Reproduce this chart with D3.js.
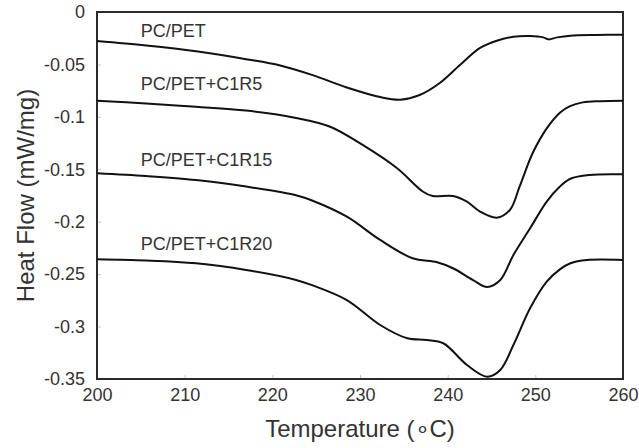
<!DOCTYPE html>
<html>
<head>
<meta charset="utf-8">
<script src="https://cdn.jsdelivr.net/npm/d3@7"></script>
<style>
  body { margin: 0; background: #fff; }
  svg { font-family: "Liberation Sans", Arial, sans-serif; }
</style>
</head>
<body>
<div id="vis"></div>
<script>
// DSC curves: temperature (°C) and heat flow (mW/mg)
var pcpetT  = [200, 205.6, 211.3, 217.0, 220.9, 224.6, 228.5, 232.3, 234.6, 236.8, 239.1, 241.4, 243.7, 245.6, 247.5, 249.4, 250.9, 251.5, 252.5, 254.0, 257.0, 260];
var pcpetHF = [-0.0277, -0.0320, -0.0375, -0.0450, -0.0510, -0.0602, -0.0720, -0.0811, -0.0836, -0.0792, -0.0677, -0.0505, -0.0343, -0.0274, -0.0236, -0.0229, -0.0242, -0.0261, -0.0242, -0.0226, -0.0219, -0.0216];

var c1r5T  = [200, 205.6, 211.3, 217.0, 222.7, 226.6, 230.3, 234.2, 237.2, 238.3, 240.6, 242.2, 243.7, 245.6, 247.1, 248.2, 249.7, 251.3, 252.8, 253.9, 255.4, 257.4, 260];
var c1r5HF = [-0.0846, -0.0873, -0.0904, -0.0940, -0.1010, -0.1094, -0.1268, -0.1488, -0.1714, -0.1755, -0.1755, -0.1809, -0.1904, -0.1962, -0.1888, -0.1666, -0.1345, -0.1110, -0.0960, -0.0900, -0.0862, -0.0850, -0.0846];

var c1r15T  = [200, 205.6, 211.3, 217.0, 222.7, 224.6, 228.5, 232.3, 236.0, 238.8, 240.6, 242.9, 244.5, 246.0, 247.5, 249.4, 251.3, 252.8, 254.0, 256.2, 260];
var c1r15HF = [-0.1538, -0.1564, -0.1602, -0.1665, -0.1748, -0.1800, -0.1952, -0.2174, -0.2349, -0.2387, -0.2444, -0.2556, -0.2623, -0.2556, -0.2317, -0.2063, -0.1809, -0.1665, -0.1590, -0.1554, -0.1548];

var c1r20T  = [200, 205.6, 211.3, 217.0, 222.7, 224.6, 228.5, 232.3, 235.4, 237.6, 239.5, 242.2, 244.5, 246.0, 247.5, 249.4, 251.3, 252.8, 254.0, 255.9, 260];
var c1r20HF = [-0.2358, -0.2370, -0.2397, -0.2460, -0.2555, -0.2607, -0.2747, -0.2985, -0.3112, -0.3128, -0.3159, -0.3366, -0.3478, -0.3414, -0.3176, -0.2826, -0.2572, -0.2455, -0.2396, -0.2365, -0.2365];

var seriesNames = ['PC/PET', 'PC/PET+C1R5', 'PC/PET+C1R15', 'PC/PET+C1R20'];
// where each name sits (temperature, heat flow of its baseline)
var labelT  = [205, 205, 205, 205];
var labelHF = [-0.0236, -0.0744, -0.1469, -0.2274];

var xTicks = [200, 210, 220, 230, 240, 250, 260];
var yTicks = [0, -0.05, -0.1, -0.15, -0.2, -0.25, -0.3, -0.35];

// svg size and plot box
var width = 639;
var height = 448;
var margin = {top: 12, right: 16, bottom: 69, left: 97};

var svg = d3.select('#vis')
    .append('svg')
    .attr('width', width)
    .attr('height', height);

var xScale = d3.scaleLinear()
    .domain([200, 260])
    .range([margin.left, width - margin.right]);

var yScale = d3.scaleLinear()
    .domain([-0.35, 0])
    .range([height - margin.bottom, margin.top]);

// axes, ticks point inward
var xAxis = d3.axisBottom(xScale)
    .tickValues(xTicks)
    .tickSize(-4)
    .tickPadding(9)
    .tickFormat(d3.format('d'));

var yAxis = d3.axisLeft(yScale)
    .tickValues(yTicks)
    .tickSize(-4)
    .tickPadding(12)
    .tickFormat(function(d) { return d === 0 ? '0' : String(+d.toFixed(2)); });

var gx = svg.append('g')
    .attr('transform', 'translate(0,' + yScale(-0.35) + ')')
    .call(xAxis);

var gy = svg.append('g')
    .attr('transform', 'translate(' + xScale(200) + ',0)')
    .call(yAxis);

[gx, gy].forEach(function(g) {
    g.select('.domain').remove();
    g.selectAll('.tick line').attr('stroke', '#c8c8c8').attr('stroke-width', 1);
    g.selectAll('.tick text')
        .attr('fill', '#333')
        .style('font-size', '18px');
});

// frame round the plot
svg.append('rect')
    .attr('x', xScale(200))
    .attr('y', yScale(0))
    .attr('width', xScale(260) - xScale(200))
    .attr('height', yScale(-0.35) - yScale(0))
    .attr('fill', 'none')
    .attr('stroke', '#2b2b2b')
    .attr('stroke-width', 2);

// curves
var series = [
    {T: pcpetT, HF: pcpetHF},
    {T: c1r5T, HF: c1r5HF},
    {T: c1r15T, HF: c1r15HF},
    {T: c1r20T, HF: c1r20HF}
];

var line = d3.line()
    .x(function(d) { return xScale(d[0]); })
    .y(function(d) { return yScale(d[1]); })
    .curve(d3.curveCatmullRom.alpha(0.5));

svg.append('g').selectAll('path')
    .data(series)
    .enter()
    .append('path')
    .attr('d', function(s) { return line(d3.zip(s.T, s.HF)); })
    .attr('fill', 'none')
    .attr('stroke', '#111')
    .attr('stroke-width', 2);

// names of the curves
svg.append('g').selectAll('text')
    .data(seriesNames)
    .enter()
    .append('text')
    .attr('x', function(d, i) { return xScale(labelT[i]); })
    .attr('y', function(d, i) { return yScale(labelHF[i]); })
    .attr('fill', '#333')
    .style('font-size', '18px')
    .text(function(d) { return d; });

// axis titles
svg.append('text')
    .attr('x', (xScale(200) + xScale(260)) / 2)
    .attr('y', 437)
    .attr('text-anchor', 'middle')
    .attr('fill', '#333')
    .style('font-size', '24px')
    .text('Temperature (\u2218C)');

svg.append('text')
    .attr('transform', 'translate(34,' + (yScale(0) + yScale(-0.35)) / 2 + ') rotate(-90)')
    .attr('text-anchor', 'middle')
    .attr('fill', '#333')
    .style('font-size', '24px')
    .text('Heat Flow (mW/mg)');
</script>
</body>
</html>
